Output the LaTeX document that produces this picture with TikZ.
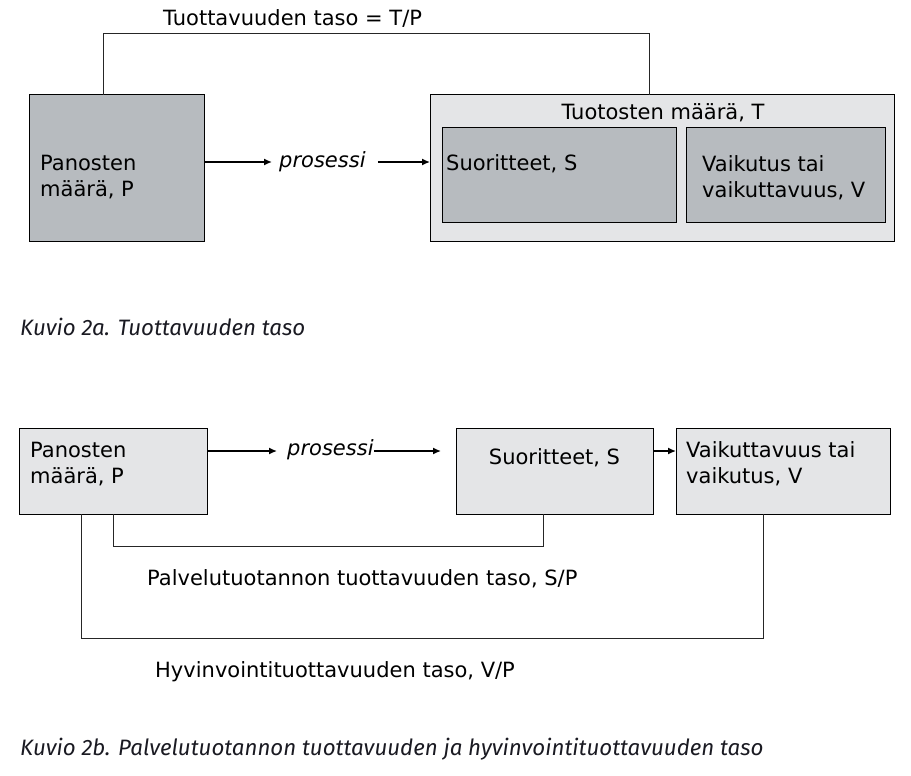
\documentclass[tikz,border=0pt]{standalone}
\usepackage{fontspec}
\setmainfont{DejaVu Sans}
\newfontfamily\capfont{Fira Sans}
\usetikzlibrary{arrows.meta,calc}
\definecolor{darkbox}{HTML}{B7BBBF}
\definecolor{lightbox}{HTML}{E4E5E7}
\definecolor{captcol}{HTML}{1A1A22}
\begin{document}
\begin{tikzpicture}[x=1pt,y=-1pt,
  box/.style={draw=black, line width=1pt, anchor=north west, inner sep=0pt, outer sep=0pt},
  txt/.style={font=\fontsize{21}{26}\selectfont, inner sep=0pt, anchor=base west, align=left},
  arr/.style={line width=1.4pt, -{Latex[length=8pt,width=7pt]}},
  conn/.style={line width=0.8pt, draw=black!85},
  captxt/.style={font=\capfont\itshape\fontsize{22.3}{24}\selectfont, text=captcol, anchor=base west, inner sep=0pt}]
\useasboundingbox (0,0) rectangle (911,776);
% ---------- Figure 2a ----------
\node[box, fill=darkbox, minimum width=175pt, minimum height=146pt] (pa) at (29,95) {};
\node[txt] (pat) at (40,196) {Panosten\\määrä, P};
\node[box, fill=lightbox, minimum width=464pt, minimum height=146pt] (ta) at (430,95) {};
\node[txt, anchor=base] (tat) at (663,120) {Tuotosten määrä, T};
\node[box, fill=darkbox, minimum width=234pt, minimum height=95pt] (sa) at (442,127) {};
\node[txt] (sat) at (446,170) {Suoritteet, S};
\node[box, fill=darkbox, minimum width=199pt, minimum height=95pt] (va) at (686,127) {};
\node[txt] (vat) at (702,197) {Vaikutus tai\\vaikuttavuus, V};
\node[txt, font=\fontsize{21}{26}\selectfont\itshape, anchor=west] (proa) at (279,162) {prosessi};
\draw[arr] (pa.east |- proa.west) -- ($(proa.west)+(-7,0)$);
\draw[arr] ($(proa.east)+(12,0)$) -- (ta.west |- proa.east);
\node[txt] (tpa) at (163,26) {Tuottavuuden taso = T/P};
\coordinate (topa) at (103,33);
\draw[conn] ($(pa.north west)+(74,0)$) |- (topa) -| ($(ta.north west)+(219,0)$);
\node[captxt] (capa) at (20,335) {Kuvio 2a. Tuottavuuden taso};
% ---------- Figure 2b ----------
\node[box, fill=lightbox, minimum width=188pt, minimum height=86pt] (pb) at (19,428) {};
\node[txt] (pbt) at (30,483) {Panosten\\määrä, P};
\node[box, fill=lightbox, minimum width=197pt, minimum height=86pt] (sb) at (456,428) {};
\node[txt, anchor=base] (sbt) at (554.5,464) {Suoritteet, S};
\node[box, fill=lightbox, minimum width=214pt, minimum height=86pt] (vb) at (676,428) {};
\node[txt] (vbt) at (686,483) {Vaikuttavuus tai\\vaikutus, V};
\node[txt, font=\fontsize{21}{26}\selectfont\itshape, anchor=west] (prob) at (287,450) {prosessi};
\coordinate (endb) at (441,451);
\draw[arr] (pb.east |- endb) -- ($(prob.west |- endb)+(-10,0)$);
\draw[arr] (prob.east |- endb) -- (endb);
\draw[arr] (sb.east |- endb) -- (vb.west |- endb);
\coordinate (spb) at (113,546);
\draw[conn] ($(pb.south west)+(94,0)$) |- (spb) -| ($(sb.south west)+(87,0)$);
\coordinate (vpb) at (81,638);
\draw[conn] ($(pb.south west)+(62,0)$) |- (vpb) -| ($(vb.south west)+(87,0)$);
\node[txt] (spt) at (147,585) {Palvelutuotannon tuottavuuden taso, S/P};
\node[txt] (vpt) at (155,677) {Hyvinvointituottavuuden taso, V/P};
\node[captxt] (capb) at (20,755) {Kuvio 2b. Palvelutuotannon tuottavuuden ja hyvinvointituottavuuden taso};
\end{tikzpicture}
\end{document}
